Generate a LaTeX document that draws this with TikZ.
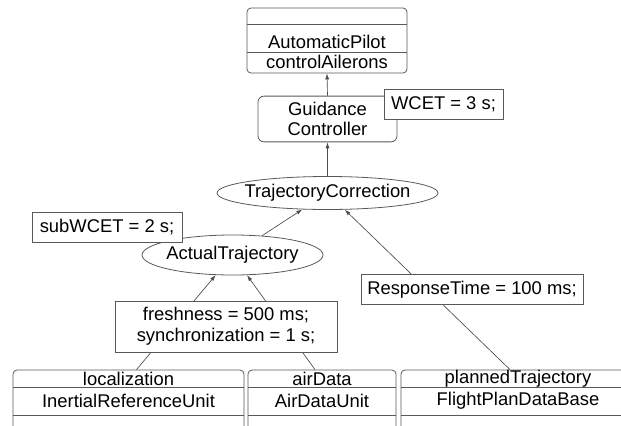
\documentclass[tikz,border=0pt]{standalone}
\usepackage{fontspec}
\setmainfont{Liberation Sans}
\usetikzlibrary{arrows.meta,shapes.geometric}
\tikzset{
	part/.style={rectangle, rounded corners=3pt, draw=black!65, line width=0.6pt, inner sep=0pt},
	sep/.style={draw=black!65, line width=0.6pt},
	txt/.style={inner sep=0pt},
	ctrl/.style={rectangle, rounded corners=4.5pt, draw=black!65, line width=0.6pt, align=center},
	task/.style={ellipse, draw=black!65, line width=0.6pt, inner xsep=-6pt, inner ysep=-2pt},
	lbl/.style={rectangle, draw=black!65, fill=white, line width=0.6pt, inner sep=0pt, minimum height=22.5pt, align=center},
	conn/.style={draw=black!70, line width=0.5pt, -{Latex[length=4.5pt,width=3pt]}},
}
\begin{document}
\fontsize{13.8}{15}\selectfont
\begin{tikzpicture}[x=0.75pt,y=-0.75pt]
			%%%%% START %%%%%
			\useasboundingbox (0,0) rectangle (621,425);
			\clip (0,0) rectangle (621,425);
			
			% automatic pilot
			\node[part, minimum width=120pt, minimum height=48.75pt] (ap) at (327,40.5) {};
			\draw[sep] (ap.west |- 0,24) -- (ap.east |- 0,24);
			\draw[sep] (ap.west |- 0,52) -- (ap.east |- 0,52);
			\node[txt] (apname) at (327,42) {AutomaticPilot};
			\node[txt] (apop) at (327,62) {controlAilerons};
			
			% controller and tasks
			\node[ctrl, minimum width=104.25pt, minimum height=31.5pt] (gc) at (327.5,119) {Guidance\\Controller};
			\node[task, minimum width=165.75pt, minimum height=24.75pt] (tc) at (327.5,193) {TrajectoryCorrection};
			\node[task, minimum width=135.75pt, minimum height=30pt] (at) at (232.5,255) {ActualTrajectory};
			
			% data parts
			\node[part, minimum width=173.25pt, minimum height=60pt] (loc) at (128.5,410) {};
			\draw[sep] (loc.west |- 0,387) -- (loc.east |- 0,387);
			\draw[sep] (loc.west |- 0,415) -- (loc.east |- 0,415);
			\node[txt] (locname) at (128.5,379) {localization};
			\node[txt] (loctype) at (128.5,401) {InertialReferenceUnit};
			
			\node[part, minimum width=111pt, minimum height=60pt] (air) at (322,410) {};
			\draw[sep] (air.west |- 0,387) -- (air.east |- 0,387);
			\draw[sep] (air.west |- 0,415) -- (air.east |- 0,415);
			\node[txt] (airname) at (322,379) {airData};
			\node[txt] (airtype) at (322,401) {AirDataUnit};
			
			\node[part, minimum width=175.5pt, minimum height=60pt] (plan) at (518,410) {};
			\draw[sep] (plan.west |- 0,387) -- (plan.east |- 0,387);
			\draw[sep] (plan.west |- 0,415) -- (plan.east |- 0,415);
			\node[txt] (planname) at (518,379) {plannedTrajectory};
			\node[txt] (plantype) at (518,401) {FlightPlanDataBase};
			
			% connectors
			\draw[conn] (gc.north) -- (ap.south);
			\draw[conn] (tc.north) -- (gc.south);
			\draw[conn] (at) -- (tc);
			\draw[conn] (loc.north) ++(8,0) -- (at);
			\draw[conn] (air.north) ++(-7,0) -- (at);
			\draw[conn] (plan.north) ++(-8,0) -- (tc);
			
			% labels
			\node[lbl, minimum width=89.25pt] (wcet) at (443.5,104) {WCET = 3 s;};
			\node[lbl, minimum width=112.5pt] (subwcet) at (107,227) {subWCET = 2 s;};
			\node[lbl, minimum width=166.5pt] (resp) at (472,289.5) {ResponseTime = 100 ms;};
			\node[lbl, minimum width=166.5pt, minimum height=38.25pt] (fresh) at (226,326.5) {freshness = 500 ms;\\[1pt]synchronization = 1 s;};
			
			%%%%% END %%%%%
\end{tikzpicture}
\end{document}
